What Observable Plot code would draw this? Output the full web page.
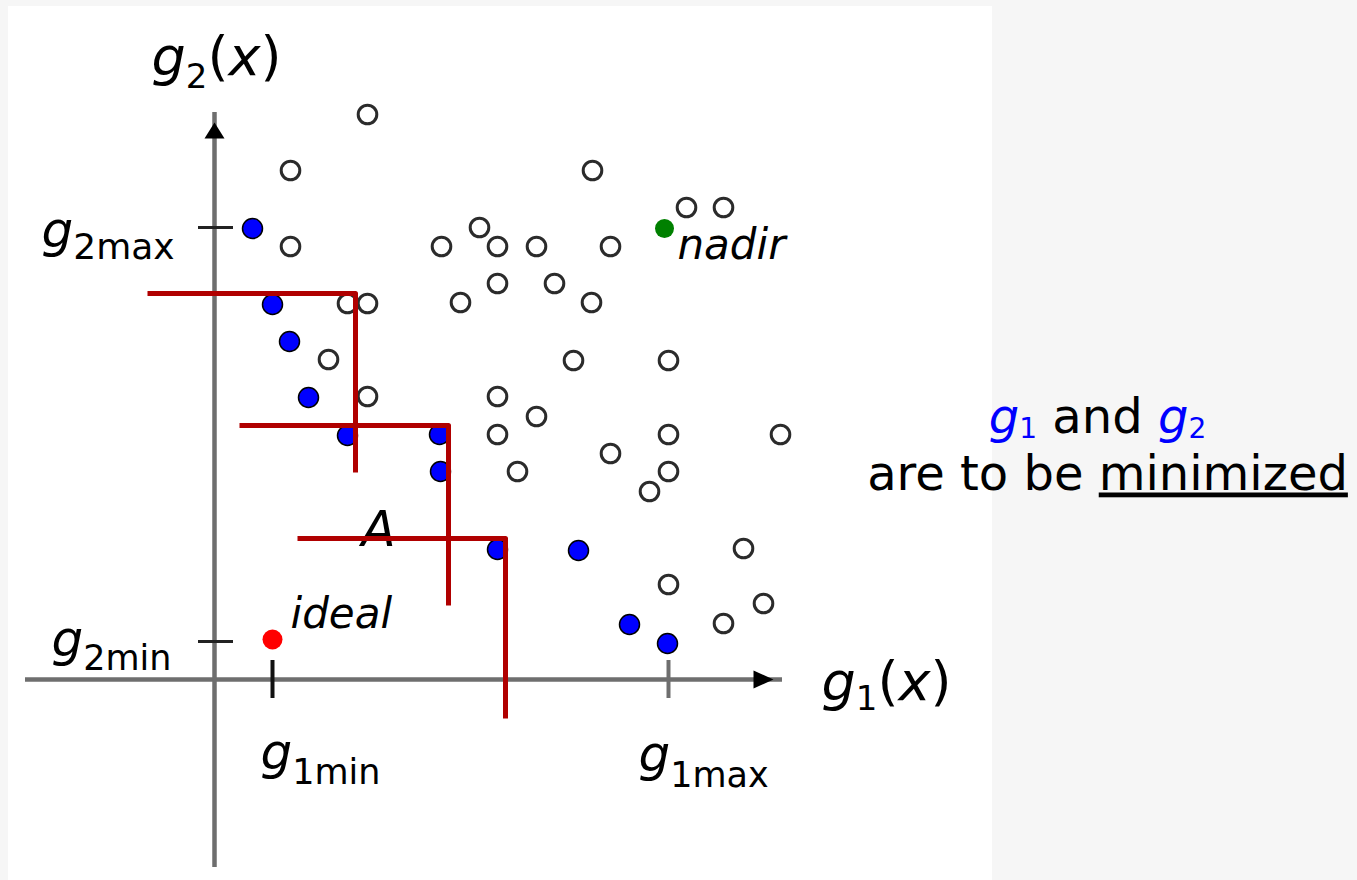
<!DOCTYPE html>
<html>
<head>
<meta charset="utf-8">
<script src="https://cdn.jsdelivr.net/npm/d3@7"></script>
<script src="https://cdn.jsdelivr.net/npm/@observablehq/plot@0.6"></script>
<style>
  html, body { margin: 0; padding: 0; background: #f6f6f6; }
  #chart { width: 1357px; height: 880px; }
  svg text { white-space: pre; }
</style>
</head>
<body>
<div id="chart"></div>
<script>
// ---- data (objective space, arbitrary units) ----
const dominatedG1 = [15.3, 7.6, 37.8, 47.2, 50.9, 26.5, 7.6, 22.7, 28.3, 32.2, 39.6, 28.3, 34.0, 13.3, 15.3, 24.6, 37.7, 11.4, 35.9, 45.4, 15.3, 28.3, 32.2, 28.3, 45.4, 56.6, 39.6, 30.3, 45.4, 43.5, 52.9, 45.4, 54.9, 50.9];
const dominatedG2 = [56.5, 50.9, 50.9, 47.2, 47.2, 45.2, 43.3, 43.3, 43.3, 43.3, 43.3, 39.6, 39.6, 37.6, 37.6, 37.7, 37.7, 32.0, 31.9, 31.9, 28.3, 28.3, 26.3, 24.5, 24.5, 24.5, 22.6, 20.8, 20.8, 18.8, 13.1, 9.5, 7.6, 5.6];
const paretoG1 = [3.8, 5.8, 7.5, 9.4, 13.3, 22.5, 22.6, 28.3, 36.4, 41.5, 45.3];
const paretoG2 = [45.1, 37.5, 33.8, 28.2, 24.4, 24.5, 20.8, 13.0, 12.9, 5.5, 3.6];
const idealPoint = [5.8, 4.0];
const nadirPoint = [45.0, 45.1];
// dominance "corner" lines (three reference points)
const cornerNames = ["c1", "c2", "c3"];
const cornerG1 = [[-6.7, 14.1, 14.1], [2.5, 23.4, 23.4], [8.3, 29.1, 29.1]];
const cornerG2 = [[38.6, 38.6, 20.7], [25.4, 25.4, 7.4], [14.1, 14.1, -3.9]];
// axis extents and tick values
const axisG1Extent = [-18.9, 56.8];
const axisG2Extent = [-18.8, 56.7];
const arrowAt = 54.9;
const g1Ticks = [5.8, 45.4];          // g1min, g1max
const g2Ticks = [45.2, 3.8];          // g2max, g2min
const tickHalf = 1.9;
// label texts and anchors
const labelText = ["g2(x)", "g1(x)", "g2max", "g2min", "g1min", "g1max"];
const labelG1 = [-6.3, 60.7, -17.3, -16.3, 4.6, 42.4];
const labelG2 = [60.5, -2.0, 43.3, 2.4, -8.9, -9.1];
const noteText = ["nadir", "ideal", "A"];
const noteG1 = [46.3, 7.6, 14.7];
const noteG2 = [42.1, 5.2, 13.4];
const sideText = ["g1 and g2\nare to be minimized"];
const sideG1 = [88.8];
const sideG2 = [24.7];
const panelG1 = [-20.6, 77.8];
const panelG2 = [-20.1, 67.3];

// ---- build tables ----
const dominated = dominatedG1.map((g1, i) => ({g1, g2: dominatedG2[i]}));
const pareto = paretoG1.map((g1, i) => ({g1, g2: paretoG2[i]}));
const corners = cornerNames.flatMap((c, k) => cornerG1[k].map((g1, j) => ({c, g1, g2: cornerG2[k][j]})));
const labels = labelText.map((t, i) => ({t, g1: labelG1[i], g2: labelG2[i]}));
const notes = noteText.map((t, i) => ({t, g1: noteG1[i], g2: noteG2[i]}));
const side = sideText.map((t, i) => ({t, g1: sideG1[i], g2: sideG2[i]}));

const arrowUp = {draw(ctx) { ctx.moveTo(0, -8); ctx.lineTo(10, 8); ctx.lineTo(-10, 8); ctx.closePath(); }};
const arrowRight = {draw(ctx) { ctx.moveTo(10, 0); ctx.lineTo(-10, -9); ctx.lineTo(-10, 9); ctx.closePath(); }};

const svg = Plot.plot({
  width: 1357,
  height: 880,
  margin: 0,
  x: {domain: [-21.4, 114.3], axis: null},
  y: {domain: [-20.1, 67.9], axis: null},
  style: {background: "transparent", fontFamily: "'DejaVu Sans', Verdana, sans-serif", overflow: "visible"},
  marks: [
    Plot.rect([{}], {x1: () => panelG1[0], x2: () => panelG1[1], y1: () => panelG2[0], y2: () => panelG2[1], fill: "white"}),
    // axes
    Plot.ruleY([0], {x1: () => axisG1Extent[0], x2: () => axisG1Extent[1], stroke: "#6e6e6e", strokeWidth: 4.5}),
    Plot.ruleX([0], {y1: () => axisG2Extent[0], y2: () => axisG2Extent[1], stroke: "#6e6e6e", strokeWidth: 4.5}),
    Plot.dot([{}], {x: () => 0, y: () => arrowAt, symbol: arrowUp, fill: "black", stroke: "none"}),
    Plot.dot([{}], {x: () => arrowAt, y: () => 0, symbol: arrowRight, fill: "black", stroke: "none"}),
    // ticks
    Plot.ruleX(g1Ticks, {x: d => d, y1: -tickHalf, y2: tickHalf, stroke: (d, i) => i === 0 ? "#111" : "#6e6e6e", strokeWidth: 4}),
    Plot.ruleY(g2Ticks, {y: d => d, x1: -1.6, x2: 1.9, stroke: "#222", strokeWidth: 3}),
    // labels
    Plot.text(labels, {x: "g1", y: "g2", text: "t", textAnchor: "start", lineAnchor: "bottom", fill: "black", fontSize: 50}),
    Plot.text(notes, {x: "g1", y: "g2", text: "t", textAnchor: "start", lineAnchor: "bottom", fill: "black", fontStyle: "italic", fontSize: d => d.t === "A" ? 50 : 42}),
    Plot.text(side, {x: "g1", y: "g2", text: "t", textAnchor: "middle", lineAnchor: "top", fill: "black", fontSize: 48}),
    // solutions
    Plot.dot(dominated, {x: "g1", y: "g2", r: 9.3, fill: "white", stroke: "#2b2b2b", strokeWidth: 3}),
    Plot.dot(pareto, {x: "g1", y: "g2", r: 10, fill: "#0000ff", stroke: "black", strokeWidth: 1.5}),
    Plot.dot([idealPoint], {x: d => d[0], y: d => d[1], r: 10, fill: "#ff0000", stroke: "none"}),
    Plot.dot([nadirPoint], {x: d => d[0], y: d => d[1], r: 9.5, fill: "#008000", stroke: "none"}),
    // dominance corners
    Plot.line(corners, {x: "g1", y: "g2", z: "c", stroke: "#b00000", strokeWidth: 5, strokeLinejoin: "round", strokeLinecap: "butt"})
  ]
});

// rich text: italic symbols and subscripts (each entry: lines of fragments)
const blue = "#0000ff";
const rich = {
  "g2(x)": {main: 54, sub: 34, shift: 13, lines: [[["g", "i"], ["2", "sub"], ["(", ""], ["x", "i"], [")", ""]]]},
  "g1(x)": {main: 54, sub: 34, shift: 10, lines: [[["g", "i"], ["1", "sub"], ["(", ""], ["x", "i"], [")", ""]]]},
  "g2max": {main: 50, sub: 36, shift: 12, lines: [[["g", "i"], ["2max", "sub"]]]},
  "g2min": {main: 50, sub: 35, shift: 14, lines: [[["g", "i"], ["2min", "sub"]]]},
  "g1min": {main: 50, sub: 35, shift: 15, lines: [[["g", "i"], ["1min", "sub"]]]},
  "g1max": {main: 50, sub: 35, shift: 16, lines: [[["g", "i"], ["1max", "sub"]]]},
  "g1 and g2are to be minimized": {main: 48, sub: 28, shift: 5, lineGap: 57, lineX: [-5, 5],
    lines: [[["g", "i", blue], ["1", "sub", blue], [" and ", ""], ["g", "i", blue], ["2", "sub", blue]],
            [["are to be ", ""], ["minimized", "u"]]]}
};
const ns = "http://www.w3.org/2000/svg";
svg.querySelectorAll("text").forEach(el => {
  const spec = rich[el.textContent];
  if (!spec) return;
  const multi = spec.lines.length > 1;
  while (el.firstChild) el.removeChild(el.firstChild);
  el.removeAttribute("y");
  let inSub = false;
  spec.lines.forEach((frags, li) => {
    frags.forEach(([s, kind, color], fi) => {
      const t = document.createElementNS(ns, "tspan");
      t.textContent = s;
      const sub = kind === "sub";
      t.setAttribute("font-size", sub ? spec.sub : spec.main);
      t.setAttribute("font-style", kind === "i" ? "italic" : "normal");
      if (kind === "u") t.setAttribute("text-decoration", "underline");
      if (color) t.setAttribute("fill", color);
      let dy = 0;
      if (fi === 0 && li > 0) {
        t.setAttribute("x", spec.lineX[li]);
        dy += spec.lineGap + (inSub ? -spec.shift : 0);
        inSub = false;
      } else if (fi === 0 && multi) {
        t.setAttribute("x", spec.lineX[li]);
      }
      if (sub !== inSub) dy += sub ? spec.shift : -spec.shift;
      if (dy) t.setAttribute("dy", dy);
      inSub = sub;
      el.appendChild(t);
    });
  });
});

document.getElementById("chart").appendChild(svg);
</script>
</body>
</html>
